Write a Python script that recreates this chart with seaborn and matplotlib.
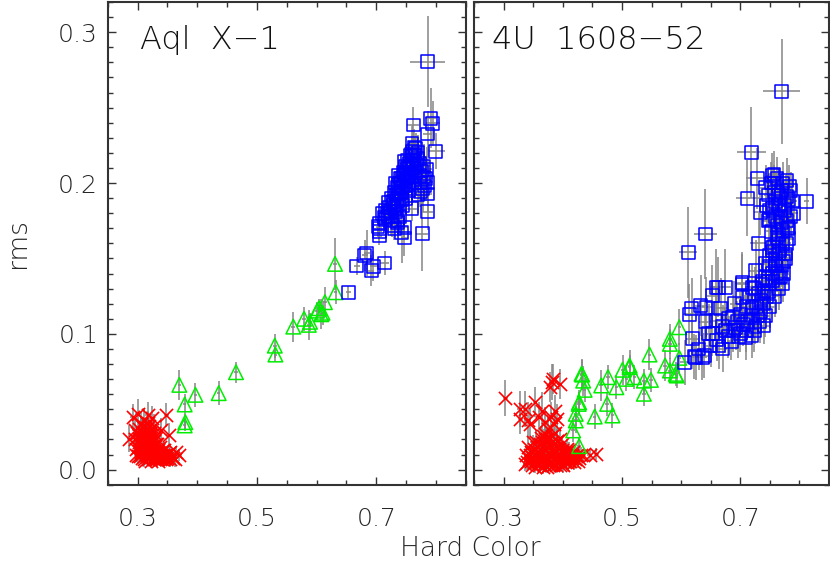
import numpy as np
import pandas as pd
import matplotlib
matplotlib.use("Agg")
import matplotlib.pyplot as plt
from matplotlib.ticker import MultipleLocator, FixedLocator
import seaborn as sns

# ---------------- Aql X-1 ----------------
aql_hard_x = [0.786, 0.791, 0.795, 0.762, 0.786, 0.800, 0.764, 0.760, 0.785, 0.786,
              0.786, 0.760, 0.786, 0.777, 0.747, 0.743, 0.705, 0.705, 0.705, 0.705,
              0.703, 0.684, 0.681, 0.667, 0.695, 0.692, 0.714, 0.653,
              0.718, 0.722, 0.725, 0.728, 0.730, 0.733, 0.735, 0.736, 0.738, 0.740,
              0.742, 0.744, 0.746, 0.748, 0.750, 0.752, 0.754, 0.756, 0.758, 0.760,
              0.762, 0.765, 0.768, 0.770, 0.772, 0.775, 0.778, 0.780, 0.783, 0.745,
              0.750, 0.740, 0.735, 0.727, 0.755, 0.765, 0.770, 0.732, 0.738, 0.748,
              0.715, 0.730, 0.760, 0.710, 0.714, 0.736, 0.747]
aql_hard_rms = [0.2805, 0.243, 0.2395, 0.2384, 0.2325, 0.221, 0.2236, 0.219, 0.209, 0.2004,
                0.1927, 0.183, 0.181, 0.1664, 0.1636, 0.1673, 0.173, 0.170, 0.168, 0.165,
                0.171, 0.1536, 0.152, 0.145, 0.1448, 0.142, 0.147, 0.1276,
                0.180, 0.184, 0.178, 0.188, 0.183, 0.192, 0.186, 0.197, 0.190, 0.200,
                0.194, 0.203, 0.198, 0.206, 0.201, 0.210, 0.204, 0.213, 0.207, 0.215,
                0.210, 0.218, 0.212, 0.220, 0.205, 0.200, 0.196, 0.211, 0.203, 0.185,
                0.190, 0.178, 0.175, 0.172, 0.195, 0.200, 0.192, 0.200, 0.205, 0.214,
                0.176, 0.170, 0.226, 0.180, 0.177, 0.174, 0.1706]
aql_hard_xerr = [0.030, 0.010, 0.012, 0.010, 0.008, 0.015, 0.008, 0.008, 0.008, 0.010,
                 0.008, 0.008, 0.010, 0.010, 0.006, 0.006, 0.004, 0.004, 0.004, 0.004,
                 0.004, 0.005, 0.005, 0.005, 0.006, 0.005, 0.008, 0.004,
                 0.006, 0.006, 0.006, 0.007, 0.006, 0.007, 0.006, 0.007, 0.006, 0.008,
                 0.006, 0.008, 0.007, 0.008, 0.007, 0.008, 0.007, 0.008, 0.007, 0.008,
                 0.008, 0.008, 0.008, 0.008, 0.010, 0.010, 0.010, 0.010, 0.012, 0.006,
                 0.006, 0.006, 0.006, 0.006, 0.007, 0.008, 0.010, 0.006, 0.006, 0.007,
                 0.005, 0.006, 0.008, 0.005, 0.005, 0.006, 0.006]
aql_hard_yerr = [0.030, 0.020, 0.015, 0.012, 0.015, 0.012, 0.012, 0.012, 0.015, 0.015,
                 0.012, 0.008, 0.012, 0.025, 0.012, 0.020, 0.006, 0.006, 0.006, 0.006,
                 0.006, 0.015, 0.010, 0.006, 0.010, 0.010, 0.008, 0.004,
                 0.008, 0.008, 0.008, 0.010, 0.008, 0.010, 0.008, 0.010, 0.008, 0.012,
                 0.008, 0.012, 0.010, 0.012, 0.010, 0.012, 0.010, 0.012, 0.010, 0.012,
                 0.012, 0.012, 0.012, 0.012, 0.015, 0.015, 0.015, 0.015, 0.015, 0.008,
                 0.008, 0.008, 0.008, 0.008, 0.010, 0.010, 0.012, 0.008, 0.010, 0.010,
                 0.008, 0.008, 0.012, 0.008, 0.008, 0.008, 0.008]
# extra points in the dense hard-state band
aql_band_x = [0.716, 0.720, 0.721, 0.724, 0.726, 0.729, 0.731, 0.734, 0.737, 0.739,
              0.741, 0.743, 0.745, 0.747, 0.749, 0.751, 0.753, 0.755, 0.757, 0.759,
              0.761, 0.763, 0.766, 0.769, 0.773, 0.776, 0.779, 0.781, 0.774, 0.760,
              0.750, 0.742, 0.733, 0.724, 0.754, 0.766]
aql_band_rms = [0.182, 0.178, 0.187, 0.181, 0.190, 0.185, 0.194, 0.188, 0.199, 0.193,
                0.203, 0.197, 0.207, 0.201, 0.211, 0.205, 0.215, 0.209, 0.218, 0.212,
                0.221, 0.215, 0.223, 0.216, 0.213, 0.208, 0.204, 0.198, 0.194, 0.204,
                0.196, 0.189, 0.181, 0.175, 0.199, 0.207]

aql_mid_x = [0.631, 0.632, 0.614, 0.601, 0.604, 0.610, 0.608, 0.579, 0.587, 0.589,
             0.561, 0.530, 0.531, 0.465, 0.436, 0.397, 0.370, 0.379, 0.380, 0.379]
aql_mid_rms = [0.1464, 0.1276, 0.121, 0.1154, 0.117, 0.114, 0.113, 0.110, 0.106, 0.108,
               0.1048, 0.0922, 0.0863, 0.0746, 0.0607, 0.0596, 0.0662, 0.0532, 0.0415, 0.0393]
aql_mid_yerr = [0.017, 0.008, 0.010, 0.006, 0.006, 0.008, 0.010, 0.008, 0.010, 0.006,
                0.010, 0.008, 0.005, 0.007, 0.008, 0.008, 0.010, 0.007, 0.005, 0.004]

aql_soft_x = [0.292, 0.300, 0.317, 0.310, 0.348, 0.286, 0.339, 0.352, 0.365, 0.370,
              0.360, 0.355, 0.325, 0.305, 0.296, 0.298,
              0.300, 0.303, 0.305, 0.307, 0.308, 0.310, 0.312, 0.313, 0.315, 0.316,
              0.318, 0.319, 0.320, 0.321, 0.323, 0.324, 0.326, 0.327, 0.328, 0.330,
              0.331, 0.333, 0.334, 0.336, 0.338, 0.340, 0.342, 0.344, 0.346, 0.348,
              0.302, 0.306, 0.309, 0.311, 0.314, 0.317, 0.322, 0.325, 0.329, 0.332,
              0.335, 0.304, 0.318, 0.327, 0.313, 0.322, 0.335]
aql_soft_rms = [0.0448, 0.047, 0.046, 0.043, 0.046, 0.0305, 0.036, 0.0327, 0.0216, 0.0194,
                0.018, 0.022, 0.044, 0.040, 0.036, 0.020,
                0.025, 0.030, 0.022, 0.034, 0.018, 0.027, 0.031, 0.020, 0.024, 0.037,
                0.017, 0.029, 0.022, 0.033, 0.019, 0.026, 0.030, 0.017, 0.023, 0.020,
                0.027, 0.018, 0.024, 0.021, 0.017, 0.019, 0.023, 0.018, 0.020, 0.017,
                0.028, 0.026, 0.038, 0.023, 0.028, 0.020, 0.035, 0.021, 0.026, 0.022,
                0.019, 0.019, 0.041, 0.039, 0.016, 0.016, 0.016]
aql_soft_yerr = [0.009, 0.010, 0.009, 0.008, 0.008, 0.009, 0.008, 0.008, 0.004, 0.004,
                 0.004, 0.005, 0.008, 0.008, 0.007, 0.005,
                 0.005, 0.006, 0.005, 0.006, 0.004, 0.005, 0.006, 0.004, 0.005, 0.007,
                 0.004, 0.005, 0.005, 0.006, 0.004, 0.005, 0.005, 0.004, 0.005, 0.004,
                 0.005, 0.004, 0.005, 0.004, 0.004, 0.004, 0.005, 0.004, 0.004, 0.004,
                 0.005, 0.005, 0.007, 0.005, 0.005, 0.004, 0.006, 0.004, 0.005, 0.004,
                 0.004, 0.004, 0.008, 0.008, 0.003, 0.003, 0.003]
# extra points in the dense soft-state clump
aql_clump_x = [0.296, 0.298, 0.299, 0.301, 0.303, 0.304, 0.306, 0.307, 0.309, 0.310,
               0.311, 0.312, 0.314, 0.315, 0.316, 0.317, 0.319, 0.320, 0.321, 0.323,
               0.324, 0.325, 0.326, 0.328, 0.329, 0.331, 0.332, 0.333, 0.335, 0.337,
               0.338, 0.340, 0.341, 0.343, 0.345, 0.347, 0.350, 0.352, 0.355, 0.358,
               0.362, 0.306, 0.313, 0.320, 0.302, 0.308, 0.318, 0.327]
aql_clump_rms = [0.030, 0.024, 0.034, 0.019, 0.037, 0.027, 0.031, 0.021, 0.029, 0.034,
                 0.017, 0.026, 0.032, 0.019, 0.028, 0.023, 0.034, 0.018, 0.027, 0.031,
                 0.021, 0.025, 0.018, 0.029, 0.022, 0.031, 0.017, 0.027, 0.023, 0.025,
                 0.020, 0.022, 0.017, 0.020, 0.023, 0.019, 0.018, 0.021, 0.017, 0.019,
                 0.017, 0.040, 0.038, 0.039, 0.033, 0.025, 0.031, 0.034]

# ---------------- 4U 1608-52 ----------------
u4_hard_x = [0.770, 0.719, 0.729, 0.712, 0.757, 0.812, 0.641, 0.612, 0.731,
             0.754, 0.779, 0.743, 0.782, 0.759, 0.734, 0.748, 0.782, 0.765, 0.754,
             0.776, 0.743, 0.773, 0.765, 0.726, 0.737, 0.703, 0.675, 0.659, 0.772,
             0.740, 0.720, 0.703, 0.663, 0.653, 0.633, 0.618, 0.614, 0.667, 0.659,
             0.641, 0.619, 0.647, 0.670, 0.639, 0.622, 0.606, 0.675, 0.692, 0.709,
             0.703, 0.720, 0.731, 0.743, 0.759, 0.765, 0.765, 0.754, 0.737, 0.720,
             0.687, 0.700, 0.625, 0.636, 0.664, 0.653, 0.642,
             0.770, 0.775, 0.768, 0.762, 0.772, 0.778, 0.760, 0.750, 0.755, 0.748,
             0.740, 0.730, 0.712, 0.700, 0.685, 0.690, 0.680, 0.725, 0.735, 0.745,
             0.762, 0.778, 0.785, 0.750, 0.765, 0.757, 0.790]
u4_hard_rms = [0.2607, 0.2203, 0.203, 0.190, 0.206, 0.188, 0.1662, 0.154, 0.160,
               0.2048, 0.2015, 0.197, 0.189, 0.188, 0.1805, 0.175, 0.1706, 0.166, 0.1574,
               0.153, 0.1464, 0.140, 0.1375, 0.142, 0.135, 0.134, 0.131, 0.131, 0.133,
               0.1055, 0.099, 0.133, 0.131, 0.1254, 0.1187, 0.117, 0.113, 0.117, 0.1088,
               0.108, 0.0967, 0.100, 0.090, 0.0856, 0.085, 0.0812, 0.102, 0.104, 0.0978,
               0.124, 0.1176, 0.1265, 0.1375, 0.1463, 0.153, 0.162, 0.155, 0.133, 0.131,
               0.111, 0.113, 0.0845, 0.0845, 0.092, 0.100, 0.1176,
               0.195, 0.185, 0.178, 0.172, 0.168, 0.160, 0.150, 0.145, 0.135, 0.128,
               0.120, 0.112, 0.108, 0.100, 0.095, 0.120, 0.110, 0.105, 0.115, 0.125,
               0.140, 0.175, 0.195, 0.182, 0.192, 0.200, 0.180]
u4_hard_xerr = [0.031, 0.025, 0.020, 0.020, 0.010, 0.005, 0.020, 0.015, 0.015,
                0.010, 0.010, 0.010, 0.010, 0.010, 0.010, 0.010, 0.010, 0.010, 0.010,
                0.010, 0.010, 0.010, 0.010, 0.012, 0.010, 0.012, 0.010, 0.010, 0.010,
                0.008, 0.008, 0.010, 0.010, 0.010, 0.010, 0.010, 0.010, 0.010, 0.010,
                0.010, 0.010, 0.010, 0.008, 0.008, 0.008, 0.008, 0.010, 0.010, 0.008,
                0.010, 0.010, 0.010, 0.010, 0.010, 0.010, 0.010, 0.010, 0.010, 0.010,
                0.008, 0.008, 0.008, 0.008, 0.008, 0.010, 0.010,
                0.008, 0.008, 0.008, 0.008, 0.008, 0.008, 0.008, 0.008, 0.008, 0.008,
                0.008, 0.008, 0.008, 0.008, 0.008, 0.008, 0.008, 0.008, 0.008, 0.008,
                0.008, 0.008, 0.008, 0.008, 0.008, 0.008, 0.008]
u4_hard_yerr = [0.035, 0.030, 0.020, 0.025, 0.015, 0.015, 0.030, 0.030, 0.020,
                0.015, 0.015, 0.015, 0.015, 0.012, 0.015, 0.012, 0.012, 0.012, 0.012,
                0.012, 0.012, 0.012, 0.012, 0.020, 0.015, 0.020, 0.025, 0.025, 0.012,
                0.012, 0.015, 0.020, 0.020, 0.020, 0.020, 0.020, 0.020, 0.020, 0.020,
                0.015, 0.020, 0.020, 0.015, 0.015, 0.015, 0.015, 0.015, 0.015, 0.015,
                0.015, 0.015, 0.012, 0.012, 0.012, 0.012, 0.012, 0.012, 0.015, 0.015,
                0.015, 0.015, 0.015, 0.015, 0.015, 0.015, 0.020,
                0.012, 0.012, 0.012, 0.012, 0.012, 0.012, 0.012, 0.012, 0.012, 0.012,
                0.012, 0.012, 0.012, 0.012, 0.012, 0.015, 0.012, 0.012, 0.012, 0.012,
                0.012, 0.012, 0.012, 0.012, 0.012, 0.012, 0.012]
# extra points in the dense hard-state column
u4_band_x = [0.752, 0.762, 0.772, 0.783, 0.748, 0.758, 0.768, 0.778, 0.788, 0.745,
             0.755, 0.765, 0.775, 0.785, 0.750, 0.760, 0.770, 0.780, 0.752, 0.762,
             0.772, 0.782, 0.757, 0.767, 0.777, 0.750, 0.760, 0.770, 0.755, 0.765,
             0.748, 0.758, 0.740, 0.750, 0.735, 0.742, 0.728, 0.733, 0.718, 0.724,
             0.710, 0.705, 0.695, 0.697, 0.688, 0.680, 0.670, 0.660, 0.650, 0.630,
             0.715, 0.725, 0.710, 0.768, 0.773]
u4_band_rms = [0.200, 0.203, 0.200, 0.198, 0.192, 0.194, 0.190, 0.191, 0.188, 0.185,
               0.183, 0.185, 0.182, 0.178, 0.176, 0.178, 0.174, 0.170, 0.168, 0.164,
               0.160, 0.163, 0.158, 0.155, 0.150, 0.152, 0.145, 0.145, 0.140, 0.130,
               0.135, 0.125, 0.128, 0.118, 0.122, 0.112, 0.118, 0.108, 0.112, 0.102,
               0.118, 0.106, 0.108, 0.098, 0.102, 0.098, 0.105, 0.096, 0.092, 0.090,
               0.125, 0.130, 0.102, 0.138, 0.148]

u4_mid_x = [0.597, 0.581, 0.581, 0.597, 0.5466, 0.573, 0.581, 0.5925, 0.513, 0.501,
            0.5074, 0.521, 0.537, 0.549, 0.537, 0.4765, 0.465, 0.4906, 0.4328, 0.4345,
            0.437, 0.427, 0.475, 0.422, 0.454, 0.484, 0.422, 0.4176, 0.4277, 0.591,
            0.513, 0.4277, 0.4317]
u4_mid_rms = [0.1044, 0.0967, 0.0934, 0.0841, 0.0863, 0.079, 0.0757, 0.0724, 0.079, 0.0762,
              0.0702, 0.0713, 0.069, 0.0695, 0.0603, 0.0713, 0.0658, 0.0646, 0.073, 0.069,
              0.0629, 0.0536, 0.0536, 0.047, 0.0452, 0.0459, 0.0426, 0.036, 0.0256, 0.0735,
              0.078, 0.0547, 0.0735]
u4_mid_yerr = [0.012, 0.010, 0.010, 0.010, 0.010, 0.010, 0.008, 0.008, 0.010, 0.010,
               0.008, 0.008, 0.008, 0.008, 0.008, 0.008, 0.010, 0.008, 0.010, 0.010,
               0.008, 0.008, 0.008, 0.008, 0.008, 0.008, 0.008, 0.008, 0.006, 0.008,
               0.008, 0.008, 0.010]

u4_soft_x = [0.303, 0.381, 0.395, 0.378, 0.384, 0.327, 0.336, 0.353, 0.3645, 0.387,
             0.328, 0.342, 0.359, 0.370, 0.390, 0.3756, 0.457, 0.4457, 0.434, 0.345,
             0.385, 0.380,
             0.340, 0.345, 0.348, 0.350, 0.352, 0.355, 0.357, 0.360, 0.362, 0.364,
             0.366, 0.368, 0.370, 0.372, 0.374, 0.376, 0.378, 0.380, 0.382, 0.384,
             0.386, 0.388, 0.390, 0.392, 0.394, 0.396, 0.398, 0.400, 0.402, 0.404,
             0.406, 0.408, 0.410, 0.412, 0.415, 0.418, 0.420, 0.424, 0.428, 0.358,
             0.367, 0.375, 0.383, 0.391, 0.399, 0.371, 0.379, 0.387, 0.395, 0.355,
             0.363, 0.346, 0.353, 0.373]
u4_soft_rms = [0.0576, 0.068, 0.067, 0.0646, 0.070, 0.0503, 0.0503, 0.0547, 0.0492, 0.0492,
               0.0437, 0.0426, 0.0448, 0.0415, 0.0437, 0.0371, 0.0205, 0.0194, 0.0194, 0.040,
               0.040, 0.045,
               0.015, 0.020, 0.013, 0.018, 0.024, 0.015, 0.021, 0.013, 0.027, 0.017,
               0.022, 0.014, 0.030, 0.019, 0.025, 0.013, 0.020, 0.016, 0.028, 0.022,
               0.014, 0.018, 0.025, 0.016, 0.020, 0.013, 0.023, 0.017, 0.021, 0.015,
               0.019, 0.024, 0.016, 0.020, 0.018, 0.022, 0.017, 0.020, 0.018, 0.018,
               0.026, 0.017, 0.013, 0.029, 0.014, 0.033, 0.031, 0.034, 0.030, 0.028,
               0.031, 0.016, 0.012, 0.012]
u4_soft_yerr = [0.012, 0.012, 0.010, 0.010, 0.010, 0.012, 0.012, 0.010, 0.012, 0.010,
                0.010, 0.012, 0.010, 0.010, 0.010, 0.010, 0.004, 0.004, 0.004, 0.010,
                0.010, 0.010,
                0.005, 0.006, 0.004, 0.005, 0.006, 0.005, 0.006, 0.004, 0.007, 0.005,
                0.006, 0.004, 0.008, 0.005, 0.006, 0.004, 0.005, 0.005, 0.007, 0.006,
                0.004, 0.005, 0.006, 0.005, 0.005, 0.004, 0.006, 0.005, 0.005, 0.004,
                0.005, 0.006, 0.005, 0.005, 0.005, 0.005, 0.005, 0.005, 0.005, 0.005,
                0.007, 0.005, 0.004, 0.008, 0.004, 0.009, 0.008, 0.009, 0.008, 0.008,
                0.008, 0.005, 0.004, 0.004]
# extra points in the dense soft-state clump
u4_clump_x = [0.336, 0.338, 0.341, 0.343, 0.347, 0.349, 0.351, 0.354, 0.356, 0.359,
              0.361, 0.363, 0.365, 0.367, 0.369, 0.371, 0.373, 0.375, 0.377, 0.379,
              0.381, 0.383, 0.385, 0.387, 0.389, 0.391, 0.393, 0.395, 0.397, 0.399,
              0.401, 0.403, 0.405, 0.407, 0.409, 0.411, 0.413, 0.416, 0.419, 0.422,
              0.426, 0.430, 0.366, 0.374, 0.382, 0.390, 0.398]
u4_clump_rms = [0.014, 0.020, 0.025, 0.017, 0.022, 0.028, 0.015, 0.019, 0.025, 0.022,
                0.016, 0.020, 0.028, 0.012, 0.018, 0.023, 0.016, 0.021, 0.027, 0.014,
                0.019, 0.024, 0.017, 0.021, 0.013, 0.020, 0.024, 0.016, 0.019, 0.022,
                0.013, 0.018, 0.022, 0.015, 0.019, 0.023, 0.016, 0.020, 0.015, 0.019,
                0.016, 0.020, 0.032, 0.030, 0.032, 0.029, 0.027]

panels = [
    ("Aql  X\u22121", 0.09,
     aql_soft_x + aql_clump_x, aql_soft_rms + aql_clump_rms,
     aql_soft_yerr + [0.005] * len(aql_clump_x),
     aql_mid_x, aql_mid_rms, aql_mid_yerr,
     aql_hard_x + aql_band_x, aql_hard_rms + aql_band_rms,
     aql_hard_xerr + [0.007] * len(aql_band_x),
     aql_hard_yerr + [0.010] * len(aql_band_x)),
    ("4U  1608\u221252", 0.051,
     u4_soft_x + u4_clump_x, u4_soft_rms + u4_clump_rms,
     u4_soft_yerr + [0.005] * len(u4_clump_x),
     u4_mid_x, u4_mid_rms, u4_mid_yerr,
     u4_hard_x + u4_band_x, u4_hard_rms + u4_band_rms,
     u4_hard_xerr + [0.008] * len(u4_band_x),
     u4_hard_yerr + [0.014] * len(u4_band_x)),
]

sns.set_style("white")
plt.rcParams["font.family"] = ["DejaVu Sans"]
plt.rcParams["font.weight"] = "light"

fig = plt.figure(figsize=(8.3, 5.71), dpi=100)
ax_left = fig.add_axes([0.1298, 0.1511, 0.4313, 0.8454])
ax_right = fig.add_axes([0.5711, 0.1511, 0.4277, 0.8454], sharey=ax_left)
err_kw = dict(fmt="none", ecolor="#858585", elinewidth=1.1, capsize=0, zorder=2)

for ax, (name, tx, sx, sy, sye, mx, my, mye, hx, hy, hxe, hye) in zip([ax_left, ax_right], panels):
    soft = pd.DataFrame({"hc": sx, "rms": sy})
    mid = pd.DataFrame({"hc": mx, "rms": my})
    hard = pd.DataFrame({"hc": hx, "rms": hy})

    ax.errorbar(sx, sy, yerr=sye, xerr=0.004, **err_kw)
    ax.errorbar(mx, my, yerr=mye, xerr=0.003, **err_kw)
    ax.errorbar(hx, hy, yerr=hye, xerr=hxe, **err_kw)

    sns.scatterplot(data=soft, x="hc", y="rms", marker="x", color="#ff0000",
                    s=90, linewidth=1.2, ax=ax, zorder=3)
    sns.scatterplot(data=mid, x="hc", y="rms", marker="^", facecolor="none",
                    edgecolor="#00ee00", s=110, linewidth=1.1, ax=ax, zorder=3)
    sns.scatterplot(data=hard, x="hc", y="rms", marker="s", facecolor="none",
                    edgecolor="#0000ff", s=85, linewidth=1.1, ax=ax, zorder=3)

    ax.set_xlim(0.25, 0.85)
    ax.set_ylim(0.0, 0.32)
    ax.xaxis.set_major_locator(FixedLocator([0.3, 0.5, 0.7]))
    ax.xaxis.set_minor_locator(MultipleLocator(0.05))
    ax.yaxis.set_major_locator(FixedLocator([0.01, 0.1, 0.2, 0.3]))
    ax.yaxis.set_minor_locator(MultipleLocator(0.01))
    ax.set_xticklabels(["0.3", "0.5", "0.7"])
    ax.tick_params(which="both", direction="in", top=True, right=True,
                   left=True, bottom=True, color="#333333", width=1.0)
    ax.tick_params(which="major", length=6, labelsize=18, pad=7)
    ax.tick_params(which="minor", length=3.5)
    ax.tick_params(axis="x", which="major", pad=16)
    for sp in ax.spines.values():
        sp.set_color("#333333")
        sp.set_linewidth(1.5)
    ax.set_xlabel("")
    ax.set_ylabel("")
    ax.text(tx, 0.921, name, transform=ax.transAxes,
            fontsize=23, va="center", ha="left", color="#111111")

ax_left.set_yticklabels(["0.0", "0.1", "0.2", "0.3"])
ax_right.tick_params(axis="y", labelleft=False)

fig.text(18 / 830, 1 - 243 / 571, "rms", rotation=90, fontsize=19, ha="center", va="center")
fig.text(470 / 830, 1 - 549 / 571, "Hard Color", fontsize=19, ha="center", va="center")

fig.savefig("out.png", dpi=100)
